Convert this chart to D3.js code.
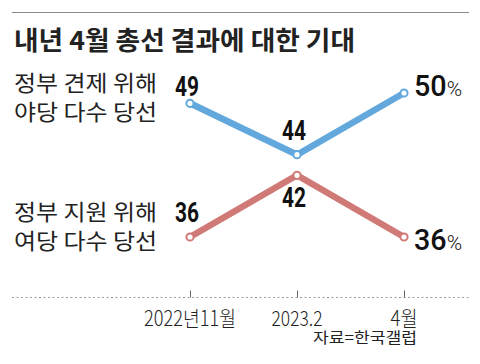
<!DOCTYPE html>
<html><head><meta charset="utf-8">
<script src="https://cdn.jsdelivr.net/npm/d3@7"></script>
<style>
html,body{margin:0;padding:0;background:#fff;}
svg{display:block;}
</style></head>
<body>
<script>
const title = "내년 4월 총선 결과에 대한 기대";
const categories = ["2022년11월", "2023.2", "4월"];
const oppositionValues = [49, 44, 50];
const rulingValues = [36, 42, 36];
const oppositionLabel = ["정부 견제 위해", "야당 다수 당선"];
const rulingLabel = ["정부 지원 위해", "여당 다수 당선"];
const source = "자료=한국갤럽";

const W = 480, H = 364;
const svg = d3.select("body").append("svg").attr("width", W).attr("height", H);

const x = d3.scalePoint().domain(categories).range([190, 404]);
const y = d3.scaleLinear().domain([36, 50]).range([237, 93]);

const KR = "'Noto Sans CJK KR', 'Noto Sans', sans-serif";
const NUM = "'Roboto', 'Liberation Sans', sans-serif";

// top rule
svg.append("line").attr("x1", 12).attr("x2", 469).attr("y1", 12.5).attr("y2", 12.5)
  .attr("stroke", "#8a8a8a").attr("stroke-width", 1.2);

// title
svg.append("text").attr("x", 14).attr("y", 50).text(title)
  .attr("font-family", KR).attr("font-weight", 700).attr("font-size", 26)
  .attr("fill", "#222").attr("textLength", 341).attr("lengthAdjust", "spacingAndGlyphs");

// series labels
function seriesLabel(lines, y0, widths) {
  lines.forEach((t, i) => {
    svg.append("text").attr("x", 14).attr("y", y0 + i * 29).text(t)
      .attr("font-family", KR).attr("font-weight", 400).attr("font-size", 22)
      .attr("fill", "#222").attr("textLength", widths[i]).attr("lengthAdjust", "spacingAndGlyphs");
  });
}
seriesLabel(oppositionLabel, 91, [143, 143]);
seriesLabel(rulingLabel, 220, [143, 143]);

// axis (dotted baseline + upward ticks)
const axisY = 297;
svg.append("line").attr("x1", 12).attr("x2", 469).attr("y1", axisY + 0.5).attr("y2", axisY + 0.5)
  .attr("stroke", "#9a9a9a").attr("stroke-width", 1).attr("stroke-dasharray", "2,2.5");
const axis = d3.axisTop(x).tickSize(7).tickFormat("");
const ag = svg.append("g").attr("transform", `translate(0,${axisY + 0.5})`).call(axis);
ag.select(".domain").remove();
ag.selectAll(".tick line").attr("stroke", "#666").attr("stroke-width", 1);

// category labels
const catWidths = [92, 51, 27];
svg.selectAll(".cat").data(categories).join("text").attr("class", "cat")
  .attr("x", d => x(d)).attr("y", 326).attr("text-anchor", "middle")
  .attr("font-family", KR).attr("font-weight", 300).attr("font-size", 21).attr("fill", "#222")
  .attr("textLength", (d, i) => catWidths[i]).attr("lengthAdjust", "spacingAndGlyphs")
  .text(d => d);

// source
svg.append("text").attr("x", 417).attr("y", 343).attr("text-anchor", "end").text(source)
  .attr("font-family", KR).attr("font-size", 15).attr("fill", "#222")
  .attr("textLength", 104).attr("lengthAdjust", "spacingAndGlyphs");

// lines
const line = d3.line().x((d, i) => x(categories[i])).y(d => y(d));
function drawSeries(vals, color) {
  svg.append("path").datum(vals).attr("d", line).attr("fill", "none")
    .attr("stroke", color).attr("stroke-width", 6.5).attr("stroke-linejoin", "miter");
  svg.selectAll(null).data(vals).join("circle")
    .attr("cx", (d, i) => x(categories[i])).attr("cy", d => y(d)).attr("r", 3.6)
    .attr("fill", "#fff").attr("stroke", color).attr("stroke-width", 2);
}
drawSeries(oppositionValues, "#62a8dc");
drawSeries(rulingValues, "#d07a78");

// value labels
function valueLabels(vals, offsets) {
  vals.forEach((v, i) => {
    const px = x(categories[i]), py = y(v);
    if (i < vals.length - 1) {
      svg.append("text").attr("x", px - 3).attr("y", py + offsets[i])
        .attr("text-anchor", "middle").attr("font-family", NUM).attr("font-weight", 700)
        .attr("font-size", 27).attr("fill", "#111").text(v)
        .attr("textLength", 24).attr("lengthAdjust", "spacingAndGlyphs");
    } else {
      const t = svg.append("text").attr("x", 414).attr("y", py + offsets[i])
        .attr("font-family", NUM).attr("fill", "#111")
        .attr("textLength", 48).attr("lengthAdjust", "spacingAndGlyphs");
      t.append("tspan").attr("font-size", 29).attr("font-weight", 500).text(v);
      t.append("tspan").attr("font-size", 21).attr("font-weight", 300).text("%");
    }
  });
}
valueLabels(oppositionValues, [-7, -15, 3]);
valueLabels(rulingValues, [-15, 32, 13]);
</script>
</body></html>
